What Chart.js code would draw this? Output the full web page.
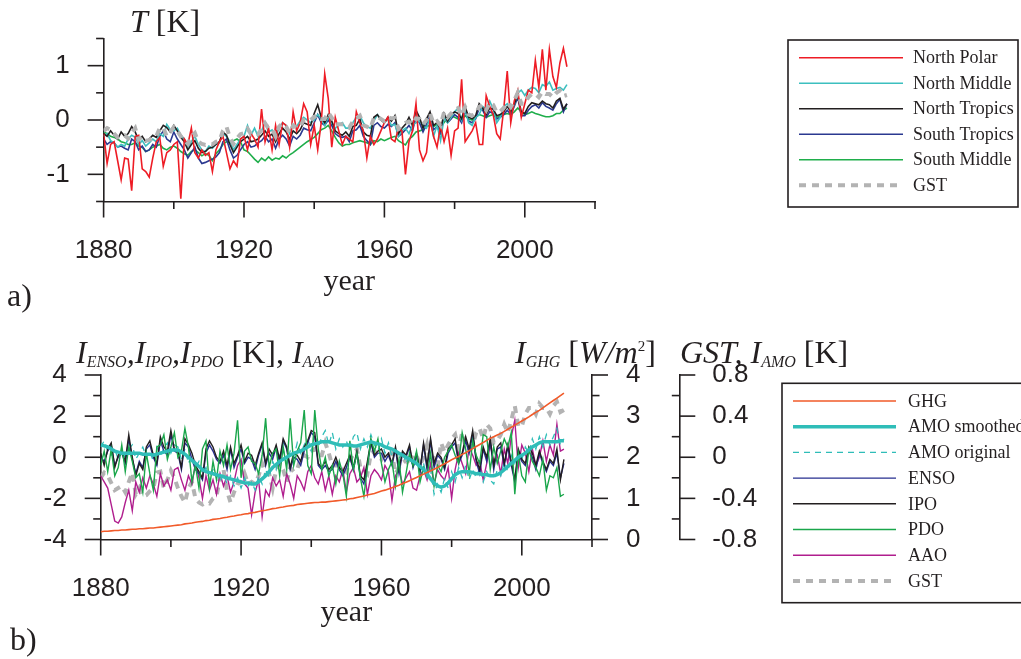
<!DOCTYPE html>
<html>
<head>
<meta charset="utf-8">
<script src="https://cdn.jsdelivr.net/npm/chart.js@4.4.1/dist/chart.umd.min.js"></script>
<style>
  html, body { margin: 0; padding: 0; background: #fff; }
  #wrap { position: relative; width: 1021px; height: 659px; overflow: hidden; }
  #wrap canvas { position: absolute; left: 0; top: 0; }
</style>
</head>
<body>
<div id="wrap">
  <canvas id="chartA" width="1021" height="659"></canvas>
  <canvas id="chartB" width="1021" height="659"></canvas>
</div>
<script>
const INK = '#231f20';
const SANS = '"Liberation Sans", Arial, sans-serif';
const SERIF = '"Liberation Serif", "Times New Roman", serif';

// x categories: one value per year
const years = [];
for (let y = 1880; y <= 2012; y++) years.push(y);

// tick labels
const yearTickLabels = [1880, 1920, 1960, 2000];
const tempTickLabels = [-1, 0, 1];
const indexTickLabels = [-4, -2, 0, 2, 4];
const ghgTickLabels = [0, 1, 2, 3, 4];
const amoTickLabels = [-0.8, -0.4, 0, 0.4, 0.8];

// ---- panel a: zonal temperatures [K] ----
const northPolar = [
  -0.25,-0.80,-0.45,-0.40,-0.75,-1.10,-0.70,-0.72,-1.30,-0.30,
  -0.28,-0.90,-0.95,-1.05,-0.70,-0.40,-0.32,-0.85,-0.60,-0.55,
  -0.45,-0.40,-1.45,-0.35,-0.45,-0.15,-0.60,-0.70,-0.55,-0.65,
  -0.60,-0.95,-0.55,-0.40,-0.30,-0.60,-0.90,-0.75,-0.85,-0.35,
  -0.30,-0.55,-0.25,-0.35,-0.50,0.20,-0.40,-0.15,-0.55,-0.10,
  -0.45,-0.05,-0.10,-0.50,0.15,-0.20,-0.05,0.30,0.15,-0.45,
  -0.10,-0.55,-0.05,0.85,0.40,-0.50,0.05,-0.20,-0.45,-0.30,
  -0.35,-0.40,0.15,-0.05,-0.20,-0.70,-0.30,-0.45,-0.35,-0.20,
  -0.05,0.05,-0.35,-0.40,-0.15,-0.20,-1.00,-0.40,-0.20,0.30,
  -0.55,-0.75,-0.60,0.00,-0.30,-0.50,-0.10,-0.40,-0.15,-0.65,
  -0.20,-0.15,0.75,-0.40,-0.30,-0.20,-0.05,-0.45,-0.45,0.45,
  0.25,0.10,-0.25,-0.35,0.20,0.90,-0.05,0.35,0.55,0.05,
  0.30,0.55,0.50,1.10,0.60,1.30,0.55,1.30,0.80,0.60,
  1.05,1.32,0.98
];
const northMiddle = [
  -0.30,-0.25,-0.38,-0.42,-0.50,-0.45,-0.48,-0.35,-0.28,-0.32,
  -0.45,-0.38,-0.48,-0.42,-0.35,-0.40,-0.25,-0.30,-0.08,-0.18,
  -0.20,-0.15,-0.28,-0.35,-0.50,-0.40,-0.30,-0.45,-0.55,-0.58,
  -0.48,-0.52,-0.45,-0.42,-0.25,-0.30,-0.40,-0.55,-0.45,-0.35,
  -0.30,-0.10,-0.28,-0.15,-0.30,-0.20,-0.05,-0.22,-0.18,-0.30,
  -0.15,-0.05,-0.10,-0.25,-0.08,-0.12,-0.02,0.05,0.00,-0.05,
  0.00,0.10,0.02,-0.10,0.05,-0.05,-0.15,-0.10,-0.05,-0.15,
  -0.15,-0.05,0.05,0.08,-0.05,-0.12,-0.15,-0.02,0.10,0.02,
  -0.05,0.02,-0.10,-0.08,-0.30,-0.20,-0.15,-0.25,-0.10,-0.05,
  -0.02,-0.10,-0.15,0.05,-0.30,-0.10,-0.38,0.05,-0.05,0.05,
  0.15,0.22,0.00,0.20,-0.05,-0.10,0.05,0.10,0.25,0.20,
  0.35,0.20,-0.05,0.05,0.25,0.30,0.15,0.28,0.50,0.55,
  0.45,0.55,0.60,0.58,0.50,0.65,0.62,0.70,0.55,0.58,
  0.60,0.55,0.65
];
const northTropics = [
  -0.25,-0.30,-0.20,-0.28,-0.35,-0.22,-0.30,-0.25,-0.12,-0.22,
  -0.38,-0.30,-0.40,-0.35,-0.28,-0.32,-0.20,-0.10,-0.14,-0.22,
  -0.10,-0.20,-0.32,-0.40,-0.55,-0.45,-0.38,-0.52,-0.60,-0.58,
  -0.52,-0.50,-0.45,-0.40,-0.22,-0.28,-0.45,-0.60,-0.50,-0.40,
  -0.35,-0.30,-0.40,-0.38,-0.35,-0.28,-0.20,-0.30,-0.26,-0.40,
  -0.25,-0.15,-0.22,-0.35,-0.20,-0.25,-0.18,-0.05,-0.08,-0.10,
  0.12,0.28,0.05,-0.05,0.10,-0.02,-0.20,-0.25,-0.28,-0.22,
  -0.30,-0.12,-0.10,0.02,-0.22,-0.28,-0.30,0.05,0.10,0.00,
  -0.05,0.05,-0.02,0.08,-0.25,-0.15,-0.08,0.05,-0.10,0.18,
  0.05,-0.15,0.02,0.15,-0.10,-0.05,-0.18,0.12,-0.02,0.10,
  0.15,0.12,0.02,0.25,0.05,0.02,0.08,0.30,0.22,0.10,
  0.22,0.20,0.08,0.10,0.15,0.25,0.15,0.30,0.45,0.15,
  0.12,0.25,0.32,0.30,0.28,0.35,0.30,0.28,0.22,0.35,
  0.40,0.20,0.30
];
const southTropics = [
  -0.35,-0.45,-0.40,-0.42,-0.50,-0.48,-0.52,-0.55,-0.35,-0.40,
  -0.55,-0.48,-0.58,-0.55,-0.45,-0.50,-0.30,-0.20,-0.35,-0.40,
  -0.22,-0.35,-0.45,-0.55,-0.70,-0.60,-0.50,-0.70,-0.80,-0.78,
  -0.75,-0.72,-0.68,-0.60,-0.40,-0.35,-0.55,-0.70,-0.65,-0.55,
  -0.45,-0.40,-0.50,-0.48,-0.42,-0.38,-0.30,-0.40,-0.35,-0.52,
  -0.35,-0.28,-0.35,-0.48,-0.30,-0.35,-0.28,-0.15,-0.18,-0.20,
  -0.05,0.10,-0.05,-0.10,0.00,-0.10,-0.25,-0.30,-0.32,-0.30,
  -0.40,-0.20,-0.18,-0.10,-0.30,-0.38,-0.45,-0.10,-0.05,-0.12,
  -0.15,-0.08,-0.12,-0.05,-0.30,-0.25,-0.18,-0.10,-0.20,0.05,
  -0.05,-0.22,-0.08,0.08,-0.18,-0.12,-0.25,0.05,-0.05,0.02,
  0.10,0.05,-0.05,0.18,-0.02,-0.05,0.02,0.22,0.18,0.05,
  0.15,0.12,0.02,0.05,0.10,0.18,0.10,0.25,0.42,0.08,
  0.08,0.18,0.25,0.28,0.22,0.32,0.25,0.22,0.18,0.30,
  0.38,0.15,0.30
];
const southMiddle = [
  -0.22,-0.25,-0.30,-0.32,-0.35,-0.40,-0.42,-0.45,-0.45,-0.42,
  -0.48,-0.50,-0.58,-0.55,-0.50,-0.48,-0.45,-0.52,-0.55,-0.50,
  -0.48,-0.52,-0.58,-0.62,-0.65,-0.58,-0.55,-0.60,-0.66,-0.62,
  -0.65,-0.75,-0.62,-0.55,-0.45,-0.40,-0.42,-0.38,-0.35,-0.40,
  -0.55,-0.58,-0.65,-0.72,-0.78,-0.70,-0.75,-0.68,-0.74,-0.70,
  -0.72,-0.66,-0.70,-0.64,-0.60,-0.55,-0.50,-0.45,-0.40,-0.36,
  -0.32,-0.25,-0.18,-0.15,-0.10,-0.20,-0.32,-0.42,-0.48,-0.45,
  -0.45,-0.42,-0.40,-0.38,-0.40,-0.42,-0.45,-0.38,-0.40,-0.35,
  -0.38,-0.35,-0.32,-0.30,-0.38,-0.42,-0.46,-0.35,-0.30,-0.22,
  -0.20,-0.18,-0.12,-0.10,-0.12,-0.08,-0.10,-0.05,0.05,0.08,
  0.05,0.02,0.00,0.08,0.02,0.00,0.05,0.10,0.08,0.05,
  0.08,0.10,0.05,0.08,0.10,0.12,0.10,0.15,0.22,0.15,
  0.10,0.12,0.15,0.12,0.10,0.08,0.06,0.06,0.08,0.12,
  0.12,0.18,0.22
];
// global surface temperature [K], used in both panels
const gst = [
  -0.20,-0.15,-0.18,-0.25,-0.32,-0.30,-0.28,-0.34,-0.24,-0.15,
  -0.36,-0.30,-0.38,-0.37,-0.33,-0.30,-0.15,-0.14,-0.30,-0.22,
  -0.13,-0.20,-0.30,-0.38,-0.44,-0.30,-0.24,-0.40,-0.44,-0.46,
  -0.44,-0.45,-0.40,-0.38,-0.20,-0.12,-0.33,-0.44,-0.34,-0.26,
  -0.24,-0.16,-0.26,-0.24,-0.26,-0.18,-0.06,-0.16,-0.16,-0.30,
  -0.12,-0.06,-0.12,-0.24,-0.10,-0.14,-0.12,0.00,0.02,0.00,
  0.06,0.08,0.02,0.02,0.14,0.04,-0.08,-0.08,-0.08,-0.10,
  -0.14,-0.03,0.03,0.08,-0.10,-0.12,-0.16,0.04,0.06,0.02,
  -0.02,0.05,0.03,0.04,-0.16,-0.10,-0.05,-0.03,-0.08,0.03,
  0.02,-0.08,0.00,0.12,-0.06,-0.02,-0.10,0.14,0.05,0.12,
  0.18,0.22,0.08,0.24,0.10,0.08,0.12,0.24,0.28,0.18,
  0.32,0.28,0.14,0.16,0.22,0.32,0.24,0.36,0.50,0.30,
  0.30,0.42,0.48,0.48,0.42,0.52,0.48,0.48,0.42,0.50,
  0.54,0.44,0.46
];

// ---- panel b: indices ----
const ghg = [ // W/m2
  0.19,0.20,0.20,0.21,0.22,0.22,0.23,0.23,0.24,0.25,
  0.25,0.26,0.26,0.27,0.28,0.28,0.29,0.30,0.31,0.32,
  0.33,0.34,0.35,0.36,0.38,0.39,0.40,0.42,0.43,0.44,
  0.46,0.47,0.49,0.50,0.51,0.53,0.54,0.56,0.57,0.59,
  0.60,0.62,0.63,0.65,0.66,0.68,0.70,0.71,0.73,0.75,
  0.76,0.78,0.79,0.81,0.82,0.83,0.85,0.86,0.87,0.88,
  0.89,0.90,0.90,0.91,0.91,0.92,0.93,0.94,0.95,0.96,
  0.97,0.99,1.00,1.02,1.04,1.06,1.08,1.10,1.12,1.15,
  1.18,1.20,1.23,1.26,1.29,1.32,1.36,1.39,1.43,1.47,
  1.51,1.55,1.59,1.63,1.67,1.71,1.75,1.80,1.84,1.89,
  1.94,1.98,2.02,2.07,2.11,2.16,2.21,2.26,2.31,2.36,
  2.41,2.46,2.50,2.54,2.58,2.63,2.68,2.73,2.78,2.83,
  2.88,2.93,2.98,3.04,3.09,3.14,3.20,3.26,3.32,3.38,
  3.44,3.50,3.56
];
const amoSmoothed = [ // K
  0.12,0.11,0.10,0.08,0.06,0.05,0.04,0.04,0.04,0.04,
  0.04,0.04,0.03,0.03,0.03,0.02,0.03,0.04,0.05,0.06,
  0.07,0.07,0.07,0.05,0.03,0.00,-0.03,-0.06,-0.09,-0.12,
  -0.14,-0.15,-0.16,-0.17,-0.18,-0.19,-0.20,-0.21,-0.22,-0.23,
  -0.24,-0.25,-0.25,-0.26,-0.26,-0.24,-0.21,-0.18,-0.14,-0.10,
  -0.07,-0.04,-0.02,0.00,0.02,0.04,0.05,0.06,0.08,0.10,
  0.12,0.13,0.14,0.15,0.15,0.15,0.14,0.13,0.12,0.12,
  0.12,0.12,0.11,0.11,0.12,0.13,0.14,0.15,0.14,0.13,
  0.12,0.10,0.09,0.08,0.06,0.04,0.02,0.00,-0.02,-0.04,
  -0.06,-0.09,-0.12,-0.16,-0.21,-0.25,-0.28,-0.29,-0.28,-0.25,
  -0.21,-0.17,-0.15,-0.14,-0.14,-0.14,-0.15,-0.16,-0.16,-0.17,
  -0.17,-0.18,-0.18,-0.17,-0.15,-0.12,-0.09,-0.06,-0.03,0.00,
  0.02,0.04,0.07,0.10,0.12,0.14,0.15,0.15,0.15,0.15,
  0.15,0.16,0.16
];
const amoOriginal = [ // K
  0.10,0.16,0.06,0.02,0.08,-0.02,0.06,0.00,0.08,0.12,
  -0.02,0.04,0.10,0.00,0.06,-0.04,0.10,0.02,0.08,0.14,
  0.04,0.12,0.10,-0.02,0.08,-0.06,0.02,-0.10,-0.04,-0.16,
  -0.10,-0.22,-0.12,-0.14,-0.24,-0.16,-0.26,-0.18,-0.28,-0.20,
  -0.30,-0.20,-0.28,-0.24,-0.32,-0.18,-0.26,-0.12,-0.20,-0.04,
  -0.12,0.02,0.08,-0.06,0.06,0.00,0.14,0.04,0.12,0.18,
  0.06,0.22,0.10,0.20,0.26,0.12,0.24,0.08,0.18,0.10,
  0.16,0.06,0.20,0.24,0.08,0.18,0.10,0.22,0.12,0.06,
  0.18,0.04,0.14,0.00,0.10,-0.02,0.06,-0.06,0.02,-0.10,
  0.00,-0.14,-0.06,-0.20,-0.12,-0.36,-0.26,-0.34,-0.20,-0.30,
  -0.14,-0.24,-0.10,-0.20,-0.08,-0.22,-0.12,-0.20,-0.10,-0.24,
  -0.14,-0.22,-0.26,-0.12,-0.18,-0.04,-0.14,0.02,-0.06,0.06,
  -0.02,0.10,0.04,0.18,0.08,0.20,0.10,0.22,0.12,0.20,
  0.28,0.12,0.18
];
const enso = [
  0.0,-0.2,0.3,0.6,-0.4,0.0,0.2,-0.3,0.9,-0.1,
  -0.8,-0.2,-0.5,0.4,0.6,0.0,-0.4,0.8,0.3,0.1,
  1.1,0.3,0.2,-0.6,0.7,0.5,-0.1,-0.6,-0.8,-1.1,
  0.2,0.6,0.3,-0.1,-0.3,0.1,-0.6,0.4,-0.5,0.0,
  0.4,-0.3,0.0,-0.1,-0.6,0.1,0.6,-0.4,0.2,-0.1,
  0.5,-0.3,0.8,0.4,-0.6,0.0,-0.1,-0.4,0.3,0.7,
  1.2,1.0,-0.4,-0.6,-0.4,-0.7,-0.6,-0.2,-0.6,-0.9,
  -0.5,0.0,-0.6,0.2,-1.0,-1.3,-0.4,0.7,0.0,0.2,
  0.2,-0.2,0.1,-0.4,0.4,-0.8,0.2,0.0,0.5,-0.5,
  0.1,-0.7,0.6,-0.6,0.8,-0.5,0.1,-0.1,-0.6,0.2,
  0.5,0.7,-0.3,0.1,0.8,0.2,1.1,-0.2,-0.8,0.4,
  -0.2,0.8,-0.6,0.4,0.5,-0.4,0.5,-0.4,-1.2,0.2,
  -0.2,-0.4,0.3,0.0,-0.6,0.2,-0.3,-0.7,-0.2,-0.4,
  0.2,-1.0,-0.3
];
const ipo = [
  0.2,-0.4,0.4,0.7,-0.5,0.1,0.3,-0.2,1.1,0.0,
  -0.9,-0.3,-0.6,0.5,0.8,0.1,-0.3,1.0,0.5,0.3,
  1.3,0.4,0.3,-0.5,0.9,0.6,0.2,-0.4,-0.7,-1.0,
  0.4,0.8,0.5,0.0,-0.2,0.3,-0.4,0.5,-0.3,0.1,
  0.6,-0.2,0.2,0.1,-0.4,0.2,0.7,-0.3,0.4,0.1,
  0.6,-0.1,0.9,0.5,-0.5,0.2,0.1,-0.2,0.5,0.8,
  1.3,1.2,-0.3,-0.5,-0.2,-0.6,-0.4,0.0,-0.5,-0.7,
  -0.3,0.1,-0.5,0.3,-0.9,-1.1,-0.2,0.8,0.1,0.3,
  0.4,0.0,0.2,-0.3,0.5,-0.6,0.3,0.1,0.6,-0.4,
  0.2,-0.6,0.7,-0.4,0.9,-0.3,0.2,0.0,-0.5,0.4,
  0.6,0.9,-0.2,0.2,1.0,0.4,1.3,-0.1,-0.6,0.5,
  0.0,0.9,-0.4,0.5,0.7,-0.3,0.6,-0.2,-1.1,0.4,
  -0.1,-0.3,0.5,0.2,-0.4,0.3,-0.2,-0.6,-0.1,-0.3,
  0.4,-1.1,-0.1
];
const pdo = [
  -0.4,0.3,-0.7,0.4,-0.9,-0.5,0.6,-0.7,0.5,-0.2,
  -1.0,-0.8,-1.7,0.2,-0.8,-1.6,0.5,0.6,1.1,-0.1,
  0.5,1.2,0.0,0.3,1.4,0.5,-1.2,-0.4,-1.5,0.4,
  0.8,-1.5,-0.2,-1.1,0.3,-0.4,0.6,-0.6,0.2,1.8,
  -1.0,0.3,0.5,-0.2,-0.3,-0.8,0.1,1.9,-0.5,0.2,
  0.4,-0.9,0.5,-0.6,1.9,-0.4,0.3,0.7,2.3,-0.4,
  -0.8,2.3,0.4,-0.6,0.0,-0.9,-0.4,-1.3,-0.2,-0.8,
  -1.9,0.8,-0.6,0.2,-1.0,-1.9,-0.5,0.9,0.3,0.9,
  -0.3,-1.2,-0.6,-0.2,-1.4,-0.1,-1.7,-0.8,0.2,-0.4,
  0.3,-1.2,-0.5,-0.9,0.2,-1.4,-0.4,-0.7,0.0,0.3,
  0.6,0.1,-0.3,1.2,0.4,-0.8,0.8,0.1,-0.3,1.1,
  1.0,-0.6,0.5,-0.3,0.3,0.9,0.5,1.2,-1.8,0.2,
  -0.9,-1.2,0.4,-0.2,-0.5,-0.9,-0.1,-1.6,-0.9,-1.0,
  -0.5,-1.9,-1.8
];
const aao = [
  -0.9,-1.2,-1.5,-2.3,-3.1,-3.2,-2.9,-2.2,-1.6,-2.6,
  -1.2,-1.7,-1.0,-1.5,-0.9,-1.3,-1.9,-0.8,-1.4,-1.1,
  -1.6,-0.6,-0.5,-1.1,-1.6,-0.9,-1.3,-0.3,-1.0,-2.0,
  -0.9,-1.6,-1.1,-1.8,-0.8,-1.4,-0.9,-1.7,-1.2,-0.4,
  -0.1,-1.3,-1.5,-2.8,-1.7,-1.1,-2.9,-1.6,-1.9,-1.0,
  -1.4,-1.1,-1.9,-0.8,-1.3,-2.0,-0.9,-1.2,-1.6,-0.7,
  -0.4,-1.0,-1.3,-0.7,-1.6,-0.9,-1.8,-0.9,-1.2,-0.6,
  -1.7,-0.8,-0.5,-1.2,-1.0,-0.5,-1.8,-0.9,-0.6,-0.8,
  -1.1,-0.4,-0.7,-2.1,-0.9,-0.6,-1.3,-1.0,-0.7,-1.5,
  -1.6,-0.9,-0.6,-1.1,-0.3,-1.3,-0.6,-0.9,-1.1,-0.5,
  -2.0,-0.6,0.2,-0.3,-0.8,0.5,0.1,-0.4,-0.2,-1.1,
  -0.3,0.6,-0.2,0.1,-0.8,0.4,-0.3,1.0,1.8,-0.5,
  0.6,0.2,-0.7,0.4,-0.4,0.0,0.8,-0.2,0.6,0.1,
  1.6,0.3,0.4
];

const pts = vals => vals.map((v, i) => ({ x: years[i], y: v }));
const has = (list, v) => list.some(t => Math.abs(t - v) < 1e-6);

// plot-area corners in page pixels
const AREA_A = { left: 103.6, right: 595, top: 38.5, bottom: 201.5, xAxisH: 120 };
const AREA_B = { left: 100.7, right: 592, top: 375, bottom: 539.5, xAxisH: 119.5, gstAxis: 679.3 };
const H = 659, W = 1021;

const lineDefaults = { pointRadius: 0, fill: false, tension: 0, borderCapStyle: 'butt' };

// keep the scales from pushing the plot area around with their label padding
const fixSize = (key, val) => s => {
  s[key] = val;
  s.paddingTop = 0; s.paddingBottom = 0; s.paddingLeft = 0; s.paddingRight = 0;
};

// tick marks: major long, minor short
const tickMarks = {
  id: 'tickMarks',
  afterDraw(chart, args, opts) {
    const ctx = chart.ctx;
    ctx.save();
    ctx.strokeStyle = INK;
    ctx.lineWidth = 1.6;
    opts.axes.forEach(a => {
      const sc = chart.scales[a.id];
      sc.ticks.forEach(t => {
        const major = has(a.major, t.value);
        const len = major ? 16 : 7.5;
        const p = sc.getPixelForValue(t.value);
        ctx.beginPath();
        if (a.side === 'bottom') {
          ctx.moveTo(p, sc.top); ctx.lineTo(p, sc.top + len);
        } else if (a.side === 'left') {
          ctx.moveTo(sc.right, p); ctx.lineTo(sc.right - len, p);
        } else {
          const dir = (!major && a.minorInside) ? -1 : 1;
          ctx.moveTo(sc.left, p); ctx.lineTo(sc.left + dir * len, p);
        }
        ctx.stroke();
      });
    });
    ctx.restore();
  }
};

function drawRuns(ctx, x, y, runs) {
  runs.forEach(r => {
    ctx.font = r.f;
    ctx.fillText(r.t, x, y + (r.dy || 0));
    x += ctx.measureText(r.t).width;
  });
}

function drawLegend(ctx, chart, box, names) {
  ctx.save();
  ctx.strokeStyle = INK;
  ctx.lineWidth = 1.6;
  ctx.setLineDash([]);
  ctx.strokeRect(box.x, box.y, box.w, box.h);
  ctx.font = '18px ' + SERIF;
  ctx.textBaseline = 'middle';
  ctx.textAlign = 'left';
  ctx.fillStyle = INK;
  names.forEach((name, i) => {
    const ds = chart.data.datasets.find(d => d.label === name);
    const y = box.row0 + i * box.step;
    ctx.beginPath();
    ctx.strokeStyle = ds.borderColor;
    ctx.lineWidth = ds.borderWidth;
    ctx.setLineDash(ds.borderDash || []);
    ctx.moveTo(box.lx0, y);
    ctx.lineTo(box.lx1, y);
    ctx.stroke();
    ctx.fillText(name, box.tx, y + 1);
  });
  ctx.restore();
}

const IT = 'italic 32px ' + SERIF;
const UP = '32px ' + SERIF;
const SUB = 'italic 16px ' + SERIF;
const SUP = '15px ' + SERIF;

const decorA = {
  id: 'decorA',
  afterDraw(chart) {
    const ctx = chart.ctx;
    ctx.save();
    ctx.fillStyle = INK;
    ctx.textBaseline = 'alphabetic';
    drawRuns(ctx, 130, 32, [{ t: 'T', f: IT }, { t: ' [K]', f: UP }]);
    ctx.font = '30px ' + SERIF;
    ctx.textAlign = 'center';
    ctx.fillText('year', (AREA_A.left + AREA_A.right) / 2, 290);
    ctx.textAlign = 'left';
    ctx.font = '32px ' + SERIF;
    ctx.fillText('a)', 7, 306);
    ctx.restore();
    drawLegend(ctx, chart,
      { x: 788, y: 40, w: 230, h: 167, row0: 57.7, step: 25.5, lx0: 799, lx1: 903, tx: 913 },
      ['North Polar', 'North Middle', 'North Tropics', 'South Tropics', 'South Middle', 'GST']);
  }
};

const decorB = {
  id: 'decorB',
  afterDraw(chart) {
    const ctx = chart.ctx;
    ctx.save();
    ctx.fillStyle = INK;
    ctx.textBaseline = 'alphabetic';
    drawRuns(ctx, 76, 363, [
      { t: 'I', f: IT }, { t: 'ENSO', f: SUB, dy: 4 }, { t: ',', f: IT },
      { t: 'I', f: IT }, { t: 'IPO', f: SUB, dy: 4 }, { t: ',', f: IT },
      { t: 'I', f: IT }, { t: 'PDO', f: SUB, dy: 4 }, { t: ' [K], ', f: UP },
      { t: 'I', f: IT }, { t: 'AAO', f: SUB, dy: 4 }
    ]);
    drawRuns(ctx, 515, 363, [
      { t: 'I', f: IT }, { t: 'GHG', f: SUB, dy: 4 }, { t: ' [', f: UP },
      { t: 'W/m', f: IT }, { t: '2', f: SUP, dy: -12 }, { t: ']', f: UP }
    ]);
    drawRuns(ctx, 680, 363, [
      { t: 'GST, ', f: IT }, { t: 'I', f: IT }, { t: 'AMO', f: SUB, dy: 4 }, { t: ' [K]', f: UP }
    ]);
    ctx.font = '30px ' + SERIF;
    ctx.textAlign = 'center';
    ctx.fillText('year', (AREA_B.left + AREA_B.right) / 2, 621);
    ctx.textAlign = 'left';
    ctx.font = '32px ' + SERIF;
    ctx.fillText('b)', 10, 650);
    ctx.restore();
    drawLegend(ctx, chart,
      { x: 782, y: 383.3, w: 270, h: 219.4, row0: 401, step: 25.7, lx0: 793, lx1: 896, tx: 908 },
      ['GHG', 'AMO smoothed', 'AMO original', 'ENSO', 'IPO', 'PDO', 'AAO', 'GST']);
  }
};

const tickFont = { family: SANS, size: 26 };
const axisBorder = { display: true, color: INK, width: 1.6 };
const noGrid = { display: false, drawTicks: false };

const xScale = (area) => ({
  type: 'linear', min: 1880, max: 2020,
  afterFit: fixSize('height', area.xAxisH),
  grid: noGrid, border: axisBorder,
  ticks: {
    stepSize: 20, autoSkip: false, maxRotation: 0, padding: 34, color: INK, font: tickFont,
    callback: v => has(yearTickLabels, v) ? String(v) : ''
  }
});

// ---- chart a ----
new Chart(document.getElementById('chartA'), {
  type: 'line',
  data: {
    datasets: [
      { label: 'North Polar', data: pts(northPolar), borderColor: '#ee1c25', borderWidth: 1.6, order: 1 },
      { label: 'North Middle', data: pts(northMiddle), borderColor: '#3cbfbf', borderWidth: 1.6, order: 3 },
      { label: 'North Tropics', data: pts(northTropics), borderColor: INK, borderWidth: 1.6, order: 2 },
      { label: 'South Tropics', data: pts(southTropics), borderColor: '#2b3990', borderWidth: 1.6, order: 4 },
      { label: 'South Middle', data: pts(southMiddle), borderColor: '#1fae4b', borderWidth: 1.6, order: 5 },
      { label: 'GST', data: pts(gst), borderColor: '#b3b3b3', borderWidth: 4, borderDash: [7, 6], order: 0 }
    ].map(d => Object.assign({}, lineDefaults, d))
  },
  options: {
    responsive: false, animation: false, devicePixelRatio: 1,
    layout: { padding: { top: AREA_A.top, left: 0, right: W - AREA_A.right, bottom: H - AREA_A.bottom - AREA_A.xAxisH } },
    plugins: {
      legend: { display: false }, tooltip: { enabled: false },
      tickMarks: { axes: [
        { id: 'x', side: 'bottom', major: yearTickLabels },
        { id: 'y', side: 'left', major: tempTickLabels }
      ] }
    },
    scales: {
      x: xScale(AREA_A),
      y: {
        min: -1.5, max: 1.5,
        afterFit: fixSize('width', AREA_A.left),
        grid: noGrid, border: axisBorder,
        ticks: {
          stepSize: 0.5, autoSkip: false, padding: 34, color: INK, font: tickFont,
          callback: v => has(tempTickLabels, v) ? String(v) : ''
        }
      }
    }
  },
  plugins: [tickMarks, decorA]
});

// ---- chart b ----
new Chart(document.getElementById('chartB'), {
  type: 'line',
  data: {
    datasets: [
      { label: 'GHG', data: pts(ghg), yAxisID: 'yGHG', borderColor: '#f15a29', borderWidth: 1.6, order: 0 },
      { label: 'AMO smoothed', data: pts(amoSmoothed), yAxisID: 'yGST', borderColor: '#2fbdb8', borderWidth: 3.5, order: 1 },
      { label: 'AMO original', data: pts(amoOriginal), yAxisID: 'yGST', borderColor: '#2fbdb8', borderWidth: 1.3, borderDash: [6, 5], order: 6 },
      { label: 'ENSO', data: pts(enso), yAxisID: 'y', borderColor: '#262e8f', borderWidth: 1.4, order: 5 },
      { label: 'IPO', data: pts(ipo), yAxisID: 'y', borderColor: INK, borderWidth: 1.4, order: 4 },
      { label: 'PDO', data: pts(pdo), yAxisID: 'y', borderColor: '#1aa64b', borderWidth: 1.4, order: 3 },
      { label: 'AAO', data: pts(aao), yAxisID: 'y', borderColor: '#b01e8e', borderWidth: 1.4, order: 7 },
      { label: 'GST', data: pts(gst), yAxisID: 'yGST', borderColor: '#b3b3b3', borderWidth: 4, borderDash: [7, 6], order: 8 }
    ].map(d => Object.assign({}, lineDefaults, d))
  },
  options: {
    responsive: false, animation: false, devicePixelRatio: 1,
    layout: { padding: { top: AREA_B.top, left: 0, right: 0, bottom: H - AREA_B.bottom - AREA_B.xAxisH } },
    plugins: {
      legend: { display: false }, tooltip: { enabled: false },
      tickMarks: { axes: [
        { id: 'x', side: 'bottom', major: yearTickLabels },
        { id: 'y', side: 'left', major: indexTickLabels },
        { id: 'yGHG', side: 'right', major: ghgTickLabels },
        { id: 'yGST', side: 'right', major: amoTickLabels, minorInside: true }
      ] }
    },
    scales: {
      x: xScale(AREA_B),
      y: {
        position: 'left', min: -4, max: 4,
        afterFit: fixSize('width', AREA_B.left),
        grid: noGrid, border: axisBorder,
        ticks: {
          stepSize: 1, autoSkip: false, padding: 34, color: INK, font: tickFont,
          callback: v => has(indexTickLabels, v) ? String(v) : ''
        }
      },
      yGHG: {
        position: 'right', min: 0, max: 4,
        afterFit: fixSize('width', AREA_B.gstAxis - AREA_B.right),
        grid: noGrid, border: axisBorder,
        ticks: {
          stepSize: 0.5, autoSkip: false, padding: 34, color: INK, font: tickFont,
          callback: v => has(ghgTickLabels, v) ? String(v) : ''
        }
      },
      yGST: {
        position: 'right', min: -0.8, max: 0.8,
        afterFit: fixSize('width', W - AREA_B.gstAxis),
        grid: noGrid, border: axisBorder,
        ticks: {
          stepSize: 0.2, autoSkip: false, padding: 33, color: INK, font: tickFont,
          callback: v => has(amoTickLabels, v) ? String(Math.round(v * 10) / 10) : ''
        }
      }
    }
  },
  plugins: [tickMarks, decorB]
});
</script>
</body>
</html>
